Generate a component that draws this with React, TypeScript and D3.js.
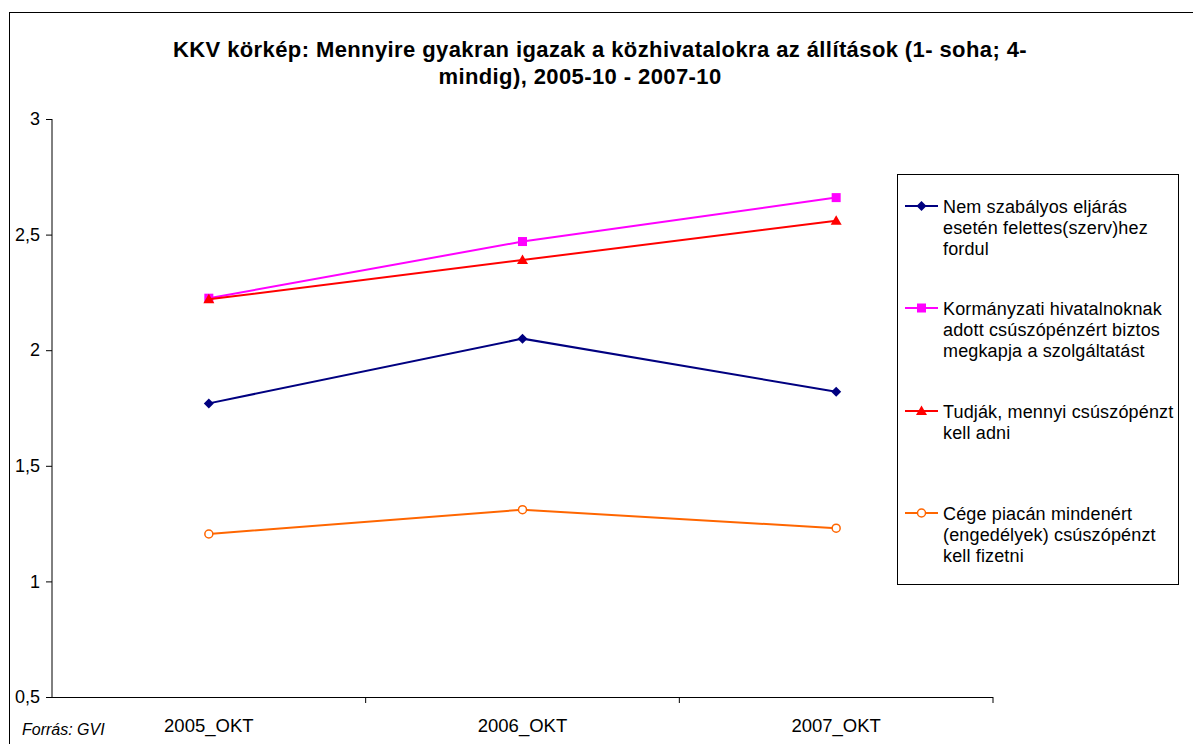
import React, {useEffect, useRef} from 'react';
import * as d3 from 'd3';

const categories = ['2005_OKT', '2006_OKT', '2007_OKT'];
const seriesNames = [
  'Nem szabályos eljárás esetén felettes(szerv)hez fordul',
  'Kormányzati hivatalnoknak adott csúszópénzért biztos megkapja a szolgáltatást',
  'Tudják, mennyi csúszópénzt kell adni',
  'Cége piacán mindenért (engedélyek) csúszópénzt kell fizetni',
];
const legendLines = [
  ['Nem szabályos eljárás', 'esetén felettes(szerv)hez', 'fordul'],
  ['Kormányzati hivatalnoknak', 'adott csúszópénzért biztos', 'megkapja a szolgáltatást'],
  ['Tudják, mennyi csúszópénzt', 'kell adni'],
  ['Cége piacán mindenért', '(engedélyek) csúszópénzt', 'kell fizetni'],
];
const felettes = [1.77, 2.05, 1.82];
const kormanyzati = [2.225, 2.47, 2.66];
const tudjak = [2.22, 2.39, 2.56];
const cegePiacan = [1.205, 1.31, 1.23];
const yTicks = [0.5, 1, 1.5, 2, 2.5, 3];
const colors = ['#000080', '#FF00FF', '#FF0000', '#FF6600'];
const markers = ['diamond', 'square', 'triangle', 'circle'];

const W = 1193;
const H = 744;
const font = '"Liberation Sans", Arial, sans-serif';

export default function App() {
  const ref = useRef<SVGSVGElement>(null);

  useEffect(() => {
    const svg = d3.select(ref.current);
    svg.selectAll('*').remove();

    const seriesValues = [felettes, kormanyzati, tudjak, cegePiacan];

    // outer chart border
    svg.append('rect')
        .attr('x', 9.5).attr('y', 12.5)
        .attr('width', 1200).attr('height', 800)
        .attr('fill', 'white')
        .attr('stroke', '#000').attr('stroke-width', 1);

    // title
    const title = svg.append('text')
        .attr('font-family', font)
        .attr('font-weight', 'bold')
        .attr('font-size', 22)
        .attr('letter-spacing', 0.4)
        .attr('text-anchor', 'middle')
        .attr('fill', '#000');
    title.append('tspan').attr('x', 600).attr('y', 57)
        .text('KKV körkép: Mennyire gyakran igazak a közhivatalokra az állítások (1- soha; 4-');
    title.append('tspan').attr('x', 580).attr('y', 84)
        .text('mindig), 2005-10 - 2007-10');

    const left = 52;
    const right = 993;
    const top = 119;
    const bottom = 697;

    const x = d3.scaleBand<string>()
        .domain(categories)
        .range([left, right]);
    const y = d3.scaleLinear()
        .domain([0.5, 3])
        .range([bottom, top]);

    // y axis
    const yAxis = svg.append('g')
        .attr('transform', `translate(${left},0)`)
        .call(d3.axisLeft(y).tickValues(yTicks).tickSize(6).tickPadding(6)
            .tickFormat((d) => String(d).replace('.', ',')));
    yAxis.select('.domain').attr('stroke', '#000').attr('d', `M0,${top}V${bottom}`);
    yAxis.selectAll('line').attr('stroke', '#000');
    yAxis.selectAll('text')
        .attr('font-family', font)
        .attr('font-size', 18)
        .attr('fill', '#000');

    // x axis
    const xAxis = svg.append('g')
        .attr('transform', `translate(0,${bottom})`);
    xAxis.append('line')
        .attr('x1', left).attr('x2', right)
        .attr('y1', 0.5).attr('y2', 0.5)
        .attr('stroke', '#000');
    const boundaries = categories.map((c) => (x(c) as number) + x.bandwidth());
    xAxis.selectAll('.xtick')
        .data(boundaries)
        .join('line')
        .attr('class', 'xtick')
        .attr('x1', (d) => d).attr('x2', (d) => d)
        .attr('y1', 0).attr('y2', 6)
        .attr('stroke', '#000');
    xAxis.selectAll('.xlabel')
        .data(categories)
        .join('text')
        .attr('class', 'xlabel')
        .attr('x', (d) => (x(d) as number) + x.bandwidth() / 2)
        .attr('y', 35)
        .attr('text-anchor', 'middle')
        .attr('font-family', font)
        .attr('font-size', 18.5)
        .attr('fill', '#000')
        .text((d) => d);

    // source note
    svg.append('text')
        .attr('x', 22).attr('y', 735)
        .attr('font-family', font)
        .attr('font-size', 16)
        .attr('font-style', 'italic')
        .attr('fill', '#000')
        .text('Forrás: GVI');

    const cx = (i: number) => (x(categories[i]) as number) + x.bandwidth() / 2;

    function drawMarker(g: any, kind: string, px: number, py: number, color: string) {
      if (kind === 'diamond') {
        g.append('path')
            .attr('d', `M${px},${py - 5}L${px + 5},${py}L${px},${py + 5}L${px - 5},${py}Z`)
            .attr('fill', color);
      } else if (kind === 'square') {
        g.append('rect')
            .attr('x', px - 4.5).attr('y', py - 4.5)
            .attr('width', 9).attr('height', 9)
            .attr('fill', color);
      } else if (kind === 'triangle') {
        g.append('path')
            .attr('d', `M${px},${py - 5.5}L${px + 5.5},${py + 4}L${px - 5.5},${py + 4}Z`)
            .attr('fill', color);
      } else {
        g.append('circle')
            .attr('cx', px).attr('cy', py).attr('r', 4)
            .attr('fill', 'white')
            .attr('stroke', color).attr('stroke-width', 1.5);
      }
    }

    const line = d3.line<number>()
        .x((d, i) => cx(i))
        .y((d) => y(d));

    seriesValues.forEach((vals, s) => {
      const g = svg.append('g').attr('class', 'series');
      g.append('path')
          .datum(vals)
          .attr('d', line)
          .attr('fill', 'none')
          .attr('stroke', colors[s])
          .attr('stroke-width', 2);
      vals.forEach((v, i) => drawMarker(g, markers[s], cx(i), y(v), colors[s]));
    });

    // legend
    const legend = svg.append('g');
    legend.append('rect')
        .attr('x', 897.5).attr('y', 174.5)
        .attr('width', 281).attr('height', 410)
        .attr('fill', 'white')
        .attr('stroke', '#000');
    const itemY = [206, 308, 411, 513];
    seriesNames.forEach((name, s) => {
      const iy = itemY[s];
      legend.append('line')
          .attr('x1', 905).attr('x2', 938)
          .attr('y1', iy).attr('y2', iy)
          .attr('stroke', colors[s]).attr('stroke-width', 2);
      drawMarker(legend, markers[s], 921.5, iy, colors[s]);
      const t = legend.append('text')
          .attr('font-family', font)
          .attr('font-size', 18)
          .attr('letter-spacing', 0.15)
          .attr('fill', '#000');
      legendLines[s].forEach((ln, k) => {
        t.append('tspan')
            .attr('x', 943)
            .attr('y', iy + 7 + k * 21)
            .text(ln);
      });
    });
  }, []);

  return (
    <svg ref={ref} width={W} height={H}
      style={{position: 'absolute', left: 0, top: 0, background: 'white'}} />
  );
}
